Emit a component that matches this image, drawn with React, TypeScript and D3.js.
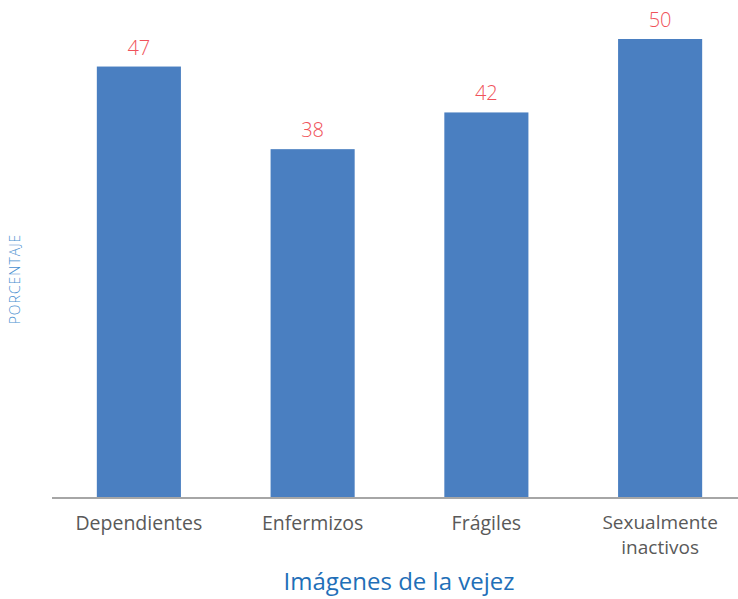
import React, { useEffect, useRef } from "react";
import * as d3 from "d3";

const categories = ["Dependientes", "Enfermizos", "Frágiles", "Sexualmente inactivos"];
const values = [47, 38, 42, 50];
const yTitle = "PORCENTAJE";
const xTitle = "Imágenes de la vejez";

const width = 738;
const height = 599;
const margin = { top: 39, right: -9, bottom: 101, left: 52 };

const App = () => {
  const ref = useRef<SVGSVGElement>(null);

  useEffect(() => {
    const svg = d3.select(ref.current);
    svg.selectAll("*").remove();
    const font = "'Open Sans', sans-serif";

    const x = d3
      .scaleBand()
      .domain(categories)
      .range([margin.left, width - margin.right])
      .paddingInner(0.516)
      .paddingOuter(0.258);

    const y = d3
      .scaleLinear()
      .domain([0, 50])
      .range([height - margin.bottom, margin.top]);

    // bars
    svg
      .selectAll(".bar")
      .data(values)
      .enter()
      .append("rect")
      .attr("x", (d, i) => x(categories[i])!)
      .attr("y", (d) => y(d))
      .attr("width", x.bandwidth())
      .attr("height", (d) => y(0) - y(d))
      .attr("fill", "#4a7fc1");

    // value labels
    svg
      .selectAll(".val")
      .data(values)
      .enter()
      .append("text")
      .attr("x", (d, i) => x(categories[i])! + x.bandwidth() / 2)
      .attr("y", (d) => y(d) - 12)
      .attr("text-anchor", "middle")
      .attr("font-family", font)
      .attr("font-weight", 300)
      .attr("font-size", 20)
      .attr("fill", "#f0525a")
      .text((d) => d);

    // baseline axis
    svg
      .append("line")
      .attr("x1", margin.left)
      .attr("x2", width)
      .attr("y1", y(0))
      .attr("y2", y(0))
      .attr("stroke", "#a6a6a6")
      .attr("stroke-width", 2);

    // category labels, long one split over two lines
    categories.forEach((c) => {
      const lines = c === "Sexualmente inactivos" ? ["Sexualmente", "inactivos"] : [c];
      const two = lines.length > 1;
      lines.forEach((l, i) => {
        svg
          .append("text")
          .attr("x", x(c)! + x.bandwidth() / 2)
          .attr("y", y(0) + (two ? 31 + i * 25 : 32))
          .attr("text-anchor", "middle")
          .attr("font-family", font)
          .attr("font-size", two ? 19 : 19.5)
          .attr("fill", "#595959")
          .text(l);
      });
    });

    // axis titles
    svg
      .append("text")
      .attr("x", 399)
      .attr("y", 590)
      .attr("text-anchor", "middle")
      .attr("font-family", font)
      .attr("font-size", 24)
      .attr("fill", "#1f6fb8")
      .text(xTitle);

    svg
      .append("text")
      .attr("transform", `translate(20,279) rotate(-90)`)
      .attr("text-anchor", "middle")
      .attr("font-family", font)
      .attr("font-weight", 300)
      .attr("font-size", 14)
      .attr("letter-spacing", 1)
      .attr("fill", "#4a90d0")
      .text(yTitle);
  }, []);

  return (
    <svg
      ref={ref}
      width={width}
      height={height}
      style={{ position: "absolute", left: 0, top: 0 }}
    ></svg>
  );
};

export default App;
